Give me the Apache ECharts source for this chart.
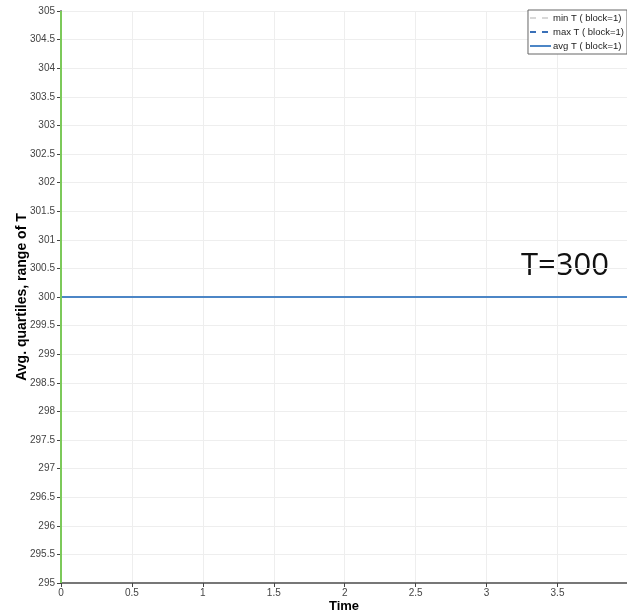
<!DOCTYPE html>
<html>
<head>
<meta charset="utf-8">
<script src="https://cdn.jsdelivr.net/npm/echarts@6/dist/echarts.min.js"></script>
<style>html,body{margin:0;padding:0;background:#fff;}#c{width:627px;height:616px;}</style>
</head>
<body>
<div id="c"></div>
<script>
var timeRange = [0, 3.99];
var minT = [300, 300];
var maxT = [300, 300];
var avgT = [300, 300];
var initLine = [[0, 295], [0, 305]];
var seriesNames = ['min T ( block=1)', 'max T ( block=1)', 'avg T ( block=1)'];
var annotation = 'T=300';

function pairs(vals) { return timeRange.map(function (t, i) { return [t, vals[i]]; }); }

var chart = echarts.init(document.getElementById('c'));
var font = 'Liberation Sans';
chart.setOption({
  animation: false,
  grid: { left: 61, right: 0, top: 11, bottom: 33, outerBoundsMode: 'none', containLabel: false },
  legend: {
    orient: 'vertical', right: 0, top: 10,
    data: seriesNames,
    borderColor: '#666', borderWidth: 1, borderRadius: 0,
    padding: [3, 3, 3, 1],
    itemWidth: 21, itemHeight: 8, itemGap: 4,
    itemStyle: { opacity: 0 },
    textStyle: { fontFamily: font, fontSize: 9.5, color: '#222', padding: [0, 0, 0, -3] },
    backgroundColor: '#fff'
  },
  xAxis: {
    type: 'value', min: 0, max: 3.99, interval: 0.5,
    name: 'Time', nameLocation: 'middle', nameGap: 17, nameMoveOverlap: false,
    nameTextStyle: { fontFamily: font, fontSize: 13, fontWeight: 'bold', color: '#000' },
    axisLine: { lineStyle: { color: '#777', width: 2 } },
    axisTick: { show: true, length: 4, lineStyle: { color: '#444' } },
    axisLabel: { fontFamily: font, fontSize: 10, color: '#444', margin: 5, showMaxLabel: false },
    splitLine: { show: true, lineStyle: { color: '#eee' } }
  },
  yAxis: {
    type: 'value', min: 295, max: 305, interval: 0.5,
    name: 'Avg. quartiles, range of T', nameLocation: 'middle', nameGap: 32, nameRotate: 90,
    nameMoveOverlap: false,
    nameTextStyle: { fontFamily: font, fontSize: 14, fontWeight: 'bold', color: '#000' },
    axisLine: { show: true, lineStyle: { color: '#777', width: 2 } },
    axisTick: { show: true, length: 4, lineStyle: { color: '#444' } },
    axisLabel: { fontFamily: font, fontSize: 10, color: '#444', margin: 6 },
    splitLine: { show: true, lineStyle: { color: '#eee' } }
  },
  series: [
    { name: 'init', type: 'line', data: initLine, symbol: 'none', z: 5,
      lineStyle: { color: '#7cc95a', width: 2 }, itemStyle: { color: '#7cc95a' } },
    { name: seriesNames[0], type: 'line', data: pairs(minT), symbol: 'none', z: 2,
      lineStyle: { color: '#d8d8d8', width: 1.5, type: [6, 6] }, itemStyle: { color: '#d8d8d8' } },
    { name: seriesNames[1], type: 'line', data: pairs(maxT), symbol: 'none', z: 3,
      lineStyle: { color: '#3a70b8', width: 1.5, type: [6, 6] }, itemStyle: { color: '#3a70b8' } },
    { name: seriesNames[2], type: 'line', data: pairs(avgT), symbol: 'none', z: 4,
      lineStyle: { color: '#4c86c6', width: 2 }, itemStyle: { color: '#4c86c6' } }
  ],
  graphic: [
    { type: 'text', left: 521, top: 251,
      style: { text: annotation, font: '31px "Open Sans"', fill: '#111' } }
  ]
});
</script>
</body>
</html>
